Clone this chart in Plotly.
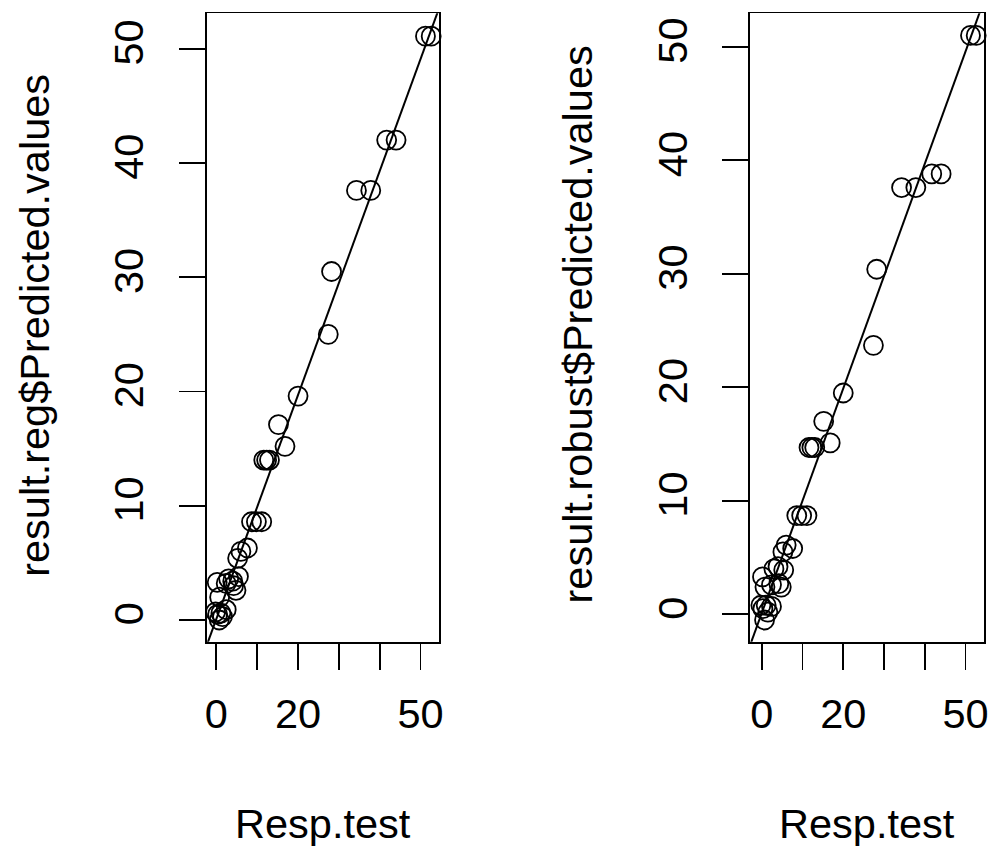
import plotly.graph_objects as go

# Shared x values (Resp.test)
resp_test = [52.6, 51.2, 44.0, 41.7, 37.8, 34.3, 28.2, 27.4, 20.0, 15.2, 16.8,
             13.0, 12.3, 11.6, 11.1, 9.8, 8.6, 7.6, 6.0, 5.2,
             0.2, 2.4, 4.0, 5.4, 4.8, 3.0, 0.8, 4.2,
             -0.2, 1.1, 2.4, 0.7, 0.3, 1.5]
# result.reg$Predicted.values
pred_reg = [51.1, 51.1, 42.0, 42.0, 37.6, 37.6, 30.5, 25.0, 19.6, 17.1, 15.2,
            14.0, 14.0, 14.0, 8.6, 8.6, 8.6, 6.3, 6.0, 5.4,
            3.3, 3.2, 3.4, 3.8, 2.6, 3.6, 2.0, 3.0,
            0.7, 0.6, 0.9, 0.0, 0.5, 0.3]
# result.robust$Predicted.values
pred_robust = [51.0, 51.0, 38.8, 38.8, 37.6, 37.6, 30.4, 23.7, 19.5, 17.0, 15.1,
               14.7, 14.7, 14.7, 8.7, 8.7, 8.7, 5.8, 6.1, 5.5,
               3.3, 2.6, 4.2, 3.9, 2.4, 4.0, 2.4, 2.7,
               0.8, 0.8, 0.7, -0.5, 0.5, 0.2]

# fitted reference lines (intercept, slope)
line_reg = (0.1, 0.98)
line_robust = (0.1, 0.99)

x_ticks = [0, 10, 20, 30, 40, 50]
x_ticktext = ["0", "", "20", "", "", "50"]
y_ticks = [0, 10, 20, 30, 40, 50]
y_ticktext = ["0", "10", "20", "30", "40", "50"]

x_title = "Resp.test"
y_title_left = "result.reg$Predicted.values"
y_title_right = "result.robust$Predicted.values"

W, H = 995, 846
FONT = "Liberation Sans, Arial, sans-serif"
FS = 41.5

fig = go.Figure()

line_x = [-10, 70]
for (yvals, (a, b), xa, ya) in [(pred_reg, line_reg, "x", "y"),
                                (pred_robust, line_robust, "x2", "y2")]:
    fig.add_trace(go.Scatter(
        x=line_x, y=[a + b * v for v in line_x], mode="lines",
        line=dict(color="black", width=2), xaxis=xa, yaxis=ya,
        showlegend=False, hoverinfo="skip"))
    fig.add_trace(go.Scatter(
        x=resp_test, y=yvals, mode="markers",
        marker=dict(symbol="circle-open", size=19, color="black",
                    line=dict(width=1.8, color="black")),
        xaxis=xa, yaxis=ya, showlegend=False, cliponaxis=False))


def dx(px):
    return px / W


def dy(py):
    return 1 - py / H


common_axis = dict(showgrid=False, zeroline=False, showline=True, mirror=True,
                   linecolor="black", linewidth=1.8, ticks="outside",
                   ticklen=26, tickwidth=1.8, tickcolor="black",
                   tickfont=dict(family=FONT, size=FS, color="black"))

fig.update_layout(
    width=W, height=H, autosize=False,
    margin=dict(l=0, r=0, t=0, b=0),
    paper_bgcolor="white", plot_bgcolor="white",
    font=dict(family=FONT, size=FS, color="black"),
    xaxis=dict(domain=[dx(206), dx(440)], range=[-2.36, 54.6],
               tickvals=x_ticks, ticktext=x_ticktext, anchor="y",
               ticklabelstandoff=9, **common_axis),
    yaxis=dict(domain=[dy(641.7), dy(13.3)], range=[-1.9, 53.1],
               tickvals=y_ticks, ticktext=y_ticktext, anchor="x",
               tickangle=-90, ticklabelstandoff=19, **common_axis),
    xaxis2=dict(domain=[dx(752.7), dx(988.3)], range=[-2.83, 54.6],
                tickvals=x_ticks, ticktext=x_ticktext, anchor="y2",
                ticklabelstandoff=9, **common_axis),
    yaxis2=dict(domain=[dy(641.7), dy(13.3)], range=[-2.41, 52.95],
                tickvals=y_ticks, ticktext=y_ticktext, anchor="x2",
                tickangle=-90, ticklabelstandoff=19, **common_axis),
)

ann_font = dict(family=FONT, size=FS, color="black")
annotations = [
    dict(text=x_title, x=dx(323), y=dy(823), xref="paper", yref="paper",
         showarrow=False, xanchor="center", yanchor="middle", font=ann_font),
    dict(text=x_title, x=dx(870.5), y=dy(823), xref="paper", yref="paper",
         showarrow=False, xanchor="center", yanchor="middle", font=ann_font),
    dict(text=y_title_left, x=dx(33), y=dy(325), xref="paper", yref="paper",
         showarrow=False, xanchor="center", yanchor="middle", textangle=-90,
         font=ann_font),
    dict(text=y_title_right, x=dx(579), y=dy(325), xref="paper", yref="paper",
         showarrow=False, xanchor="center", yanchor="middle", textangle=-90,
         font=ann_font),
]
fig.update_layout(annotations=annotations)

fig.write_html("out.html",
               config={"displayModeBar": False, "staticPlot": True},
               post_script="document.body.style.margin='0';"
                           "document.body.style.overflow='hidden';")
